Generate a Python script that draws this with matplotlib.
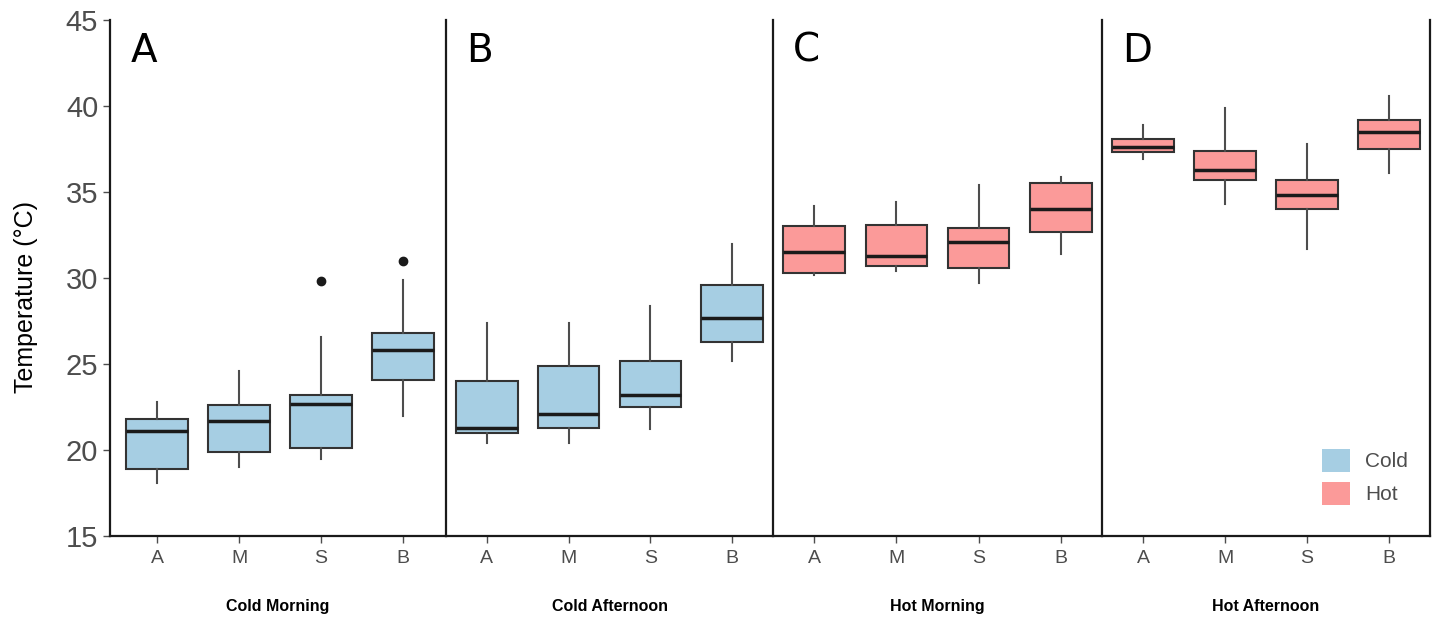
import matplotlib.pyplot as plt
from matplotlib.patches import Patch

plt.rcParams['font.family'] = ['Liberation Sans', 'DejaVu Sans']

panels = ['Cold Morning', 'Cold Afternoon', 'Hot Morning', 'Hot Afternoon']
panel_letters = ['A', 'B', 'C', 'D']
groups = ['A', 'M', 'S', 'B']
panel_colors = ['#A6CEE3', '#A6CEE3', '#FB9A99', '#FB9A99']

# whisker low, Q1, median, Q3, whisker high per group
whislo = [[18.1, 19.0, 19.5, 22.0],
          [20.4, 20.4, 21.2, 25.2],
          [30.2, 30.4, 29.7, 31.4],
          [36.9, 34.3, 31.7, 36.1]]
q1 = [[18.9, 19.9, 20.1, 24.1],
      [21.0, 21.3, 22.5, 26.3],
      [30.3, 30.7, 30.6, 32.7],
      [37.3, 35.7, 34.0, 37.5]]
med = [[21.1, 21.7, 22.7, 25.8],
       [21.3, 22.1, 23.2, 27.7],
       [31.5, 31.3, 32.1, 34.0],
       [37.6, 36.3, 34.8, 38.5]]
q3 = [[21.8, 22.6, 23.2, 26.8],
      [24.0, 24.9, 25.2, 29.6],
      [33.0, 33.1, 32.9, 35.5],
      [38.1, 37.4, 35.7, 39.2]]
whishi = [[22.8, 24.6, 26.6, 29.9],
          [27.4, 27.4, 28.4, 32.0],
          [34.2, 34.4, 35.4, 35.9],
          [38.9, 39.9, 37.8, 40.6]]
outliers = [[[], [], [29.8], [31.0]],
            [[], [], [], []],
            [[], [], [], []],
            [[], [], [], []]]

fig, axes = plt.subplots(1, 4, figsize=(14.42, 6.19), dpi=100, sharey=True,
                         gridspec_kw={'width_ratios': [336, 327, 329, 328]})
fig.subplots_adjust(left=0.0763, right=0.9917, top=0.9677, bottom=0.134, wspace=0)

xlims = [(0.427, 4.524), (0.5, 4.5), (0.5, 4.5), (0.5, 4.5)]

for i, ax in enumerate(axes):
    ax.patch.set_visible(False)
    stats = []
    for j in range(4):
        stats.append({'whislo': whislo[i][j], 'q1': q1[i][j], 'med': med[i][j],
                      'q3': q3[i][j], 'whishi': whishi[i][j], 'fliers': outliers[i][j]})
    ax.bxp(stats, positions=[1, 2, 3, 4], widths=0.75, patch_artist=True, showcaps=False,
           boxprops=dict(facecolor=panel_colors[i], edgecolor='#333333', linewidth=1.5),
           medianprops=dict(color='#1a1a1a', linewidth=2.5),
           whiskerprops=dict(color='#4d4d4d', linewidth=1.5),
           flierprops=dict(marker='o', markerfacecolor='#1a1a1a', markeredgecolor='#1a1a1a',
                           markersize=6))
    ax.set_xlim(*xlims[i])
    ax.set_ylim(15, 45)
    ax.set_xticks([1, 2, 3, 4])
    ax.set_xticklabels(groups, fontsize=14, color='#4d4d4d')
    ax.tick_params(axis='x', length=5, width=1, color='#4d4d4d', pad=5)
    ax.spines['top'].set_visible(False)
    for s in ['left', 'right', 'bottom']:
        ax.spines[s].set_linewidth(1.6)
        ax.spines[s].set_color('#1a1a1a')
    if i > 0:
        ax.spines['left'].set_visible(False)
        ax.tick_params(axis='y', left=False)
    ax.text(20 / 330, 0.977, panel_letters[i], transform=ax.transAxes, fontsize=28,
            family='DejaVu Sans', va='top', ha='left')
    ax.text(0.5, -0.136, panels[i], transform=ax.transAxes, fontsize=11.5,
            fontweight='bold', ha='center', va='center',
            family=['Liberation Sans Narrow', 'Liberation Sans'])

axes[0].set_yticks([15, 20, 25, 30, 35, 40, 45])
axes[0].tick_params(axis='y', labelsize=21, labelcolor='#4d4d4d', length=5, width=1,
                    color='#4d4d4d')
axes[0].set_ylabel('Temperature (°C)', fontsize=18)
axes[0].yaxis.set_label_coords(-0.215, 0.463)

handles = [Patch(facecolor='#A6CEE3', edgecolor='none', label='Cold'),
           Patch(facecolor='#FB9A99', edgecolor='none', label='Hot')]
axes[3].legend(handles=handles, loc='lower right', frameon=False, fontsize=15,
               labelcolor='#4d4d4d', handlelength=1.35, handleheight=1.35,
               borderpad=0, handletextpad=0.75, labelspacing=0.45,
               bbox_to_anchor=(0.965, 0.04))

fig.savefig('out.png', dpi=100)
